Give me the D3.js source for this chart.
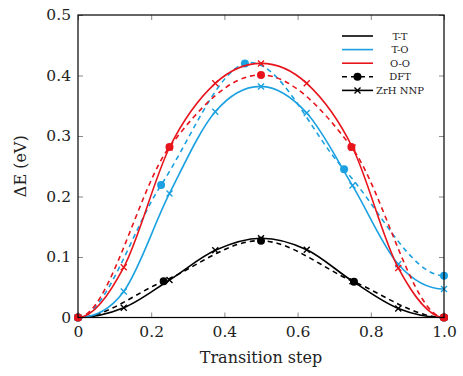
<!DOCTYPE html>
<html>
<head>
<meta charset="utf-8">
<script src="https://cdn.jsdelivr.net/npm/d3@7"></script>
<style>
body { margin: 0; background: #fff; }
svg text { font-family: "DejaVu Serif", serif !important; fill: #222; }
</style>
</head>
<body>
<svg class="EnergyChart" width="463" height="376"></svg>
<script>
// NNP steps (9 images along the path)
var nnpSteps = [0, 0.125, 0.25, 0.375, 0.5, 0.625, 0.75, 0.875, 1.0];
var nnpTT = [0, 0.016, 0.062, 0.111, 0.131, 0.112, 0.060, 0.015, 0];
var nnpTO = [0, 0.043, 0.205, 0.340, 0.382, 0.338, 0.218, 0.088, 0.047];
var nnpOO = [0, 0.083, 0.281, 0.387, 0.420, 0.387, 0.281, 0.082, 0];

// DFT points
var dftStepsTT = [0, 0.234, 0.5, 0.754, 1.0];
var dftTT = [0, 0.060, 0.127, 0.059, 0];
var dftStepsTO = [0, 0.227, 0.456, 0.727, 1.0];
var dftTO = [0, 0.219, 0.420, 0.245, 0.069];
var dftStepsOO = [0, 0.25, 0.5, 0.747, 1.0];
var dftOO = [0, 0.282, 0.401, 0.282, 0];

var xTicks = [0, 0.2, 0.4, 0.6, 0.8, 1.0];
var xTickLabels = ["0", "0.2", "0.4", "0.6", "0.8", "1.0"];
var yTicks = [0, 0.1, 0.2, 0.3, 0.4, 0.5];
var yTickLabels = ["0", "0.1", "0.2", "0.3", "0.4", "0.5"];

var pathNames = ["T-T", "T-O", "O-O"];
var pathColors = { "T-T": "#000000", "T-O": "#1ba1e2", "O-O": "#e8141c" };

var meta = {};
meta.left = 78; meta.top = 15;
meta.width = 366; meta.height = 302.5;

var svg = d3.select(".EnergyChart");
var chart = svg.append('g')
    .attr('transform', `translate(${meta.left}, ${meta.top})`);

var xScale = d3.scaleLinear().domain([0, 1]).range([0, meta.width]);
var yScale = d3.scaleLinear().domain([0, 0.5]).range([meta.height, 0]);

// inward gray ticks on all four sides
function tickStyle(g) {
    g.attr('font-family', null);
    g.select('.domain').remove();
    g.selectAll('.tick line').attr('stroke', '#888').attr('stroke-width', 1);
}
chart.append('g')
    .attr('transform', `translate(0, ${meta.height})`)
    .call(d3.axisBottom(xScale).tickValues(xTicks).tickSizeInner(-5).tickSizeOuter(0)
        .tickPadding(8).tickFormat((d, i) => xTickLabels[i]))
    .call(tickStyle)
    .call(g => g.selectAll('.tick text').attr('font-size', 15.5).attr('fill', '#222'));
chart.append('g')
    .call(d3.axisTop(xScale).tickValues(xTicks).tickSizeInner(-5).tickSizeOuter(0).tickFormat(''))
    .call(tickStyle);
chart.append('g')
    .call(d3.axisLeft(yScale).tickValues(yTicks).tickSizeInner(-5).tickSizeOuter(0)
        .tickPadding(7).tickFormat((d, i) => yTickLabels[i]))
    .call(tickStyle)
    .call(g => g.selectAll('.tick text').attr('font-size', 15.5).attr('fill', '#222'));
chart.append('g')
    .attr('transform', `translate(${meta.width}, 0)`)
    .call(d3.axisRight(yScale).tickValues(yTicks).tickSizeInner(-5).tickSizeOuter(0).tickFormat(''))
    .call(tickStyle);

// cubic Hermite spline with flat ends (energy minima at both ends of the path)
function ClampedSpline(context) { this._context = context; }
ClampedSpline.prototype = {
    areaStart: function() { this._line = 0; },
    areaEnd: function() { this._line = NaN; },
    lineStart: function() { this._x = []; this._y = []; },
    point: function(x, y) { this._x.push(+x); this._y.push(+y); },
    lineEnd: function() {
        var x = this._x, y = this._y, n = x.length, m = [];
        if (!n) return;
        for (var i = 0; i < n; i++) {
            if (i === 0 || i === n - 1) { m.push(0); continue; }
            var h0 = x[i] - x[i - 1], h1 = x[i + 1] - x[i];
            var s0 = (y[i] - y[i - 1]) / h0, s1 = (y[i + 1] - y[i]) / h1;
            m.push((s0 * h1 + s1 * h0) / (h0 + h1));
        }
        this._context.moveTo(x[0], y[0]);
        for (var j = 0; j < n - 1; j++) {
            var h = x[j + 1] - x[j];
            this._context.bezierCurveTo(
                x[j] + h / 3, y[j] + m[j] * h / 3,
                x[j + 1] - h / 3, y[j + 1] - m[j + 1] * h / 3,
                x[j + 1], y[j + 1]);
        }
    }
};
function curveClamped(context) { return new ClampedSpline(context); }

var lineGen = d3.line()
    .x(d => xScale(d[0]))
    .y(d => yScale(d[1]))
    .curve(curveClamped);

var nnpData = { "T-T": nnpTT, "T-O": nnpTO, "O-O": nnpOO };
var dftData = {
    "T-T": [dftStepsTT, dftTT],
    "T-O": [dftStepsTO, dftTO],
    "O-O": [dftStepsOO, dftOO]
};

function crossPath(x, y, s) {
    return `M${x - s},${y - s}L${x + s},${y + s}M${x - s},${y + s}L${x + s},${y - s}`;
}

pathNames.forEach(function(name) {
    var col = pathColors[name];
    var nnp = nnpSteps.map((s, i) => [s, nnpData[name][i]]);
    var dft = dftData[name][0].map((s, i) => [s, dftData[name][1][i]]);

    chart.append('path')
        .datum(dft)
        .attr('d', lineGen)
        .attr('fill', 'none')
        .attr('stroke', col)
        .attr('stroke-width', 1.6)
        .attr('stroke-dasharray', '5,4');

    chart.append('path')
        .datum(nnp)
        .attr('d', lineGen)
        .attr('fill', 'none')
        .attr('stroke', col)
        .attr('stroke-width', 1.6);

    chart.selectAll(null)
        .data(nnp)
        .enter()
        .append('path')
        .attr('d', d => crossPath(xScale(d[0]), yScale(d[1]), 3))
        .attr('stroke', col)
        .attr('stroke-width', 1.4)
        .attr('fill', 'none');

    chart.selectAll(null)
        .data(dft)
        .enter()
        .append('circle')
        .attr('cx', d => xScale(d[0]))
        .attr('cy', d => yScale(d[1]))
        .attr('r', 4)
        .attr('fill', col);
});

// frame
chart.append('rect')
    .attr('width', meta.width)
    .attr('height', meta.height)
    .attr('fill', 'none')
    .attr('stroke', '#000')
    .attr('stroke-width', 1.2);

// legend
var legendItems = [
    { label: "T-T", color: pathColors["T-T"], dash: null, marker: null },
    { label: "T-O", color: pathColors["T-O"], dash: null, marker: null },
    { label: "O-O", color: pathColors["O-O"], dash: null, marker: null },
    { label: "DFT", color: "#000", dash: "5,4", marker: "circle" },
    { label: "ZrH NNP", color: "#000", dash: null, marker: "cross" }
];
var legend = svg.append('g').attr('transform', 'translate(342, 36)');
legendItems.forEach(function(item, i) {
    var y = i * 13.6;
    legend.append('line')
        .attr('x1', 0).attr('x2', 31)
        .attr('y1', y).attr('y2', y)
        .attr('stroke', item.color)
        .attr('stroke-width', 1.6)
        .attr('stroke-dasharray', item.dash);
    if (item.marker === "circle") {
        legend.append('circle').attr('cx', 15.5).attr('cy', y).attr('r', 4).attr('fill', item.color);
    } else if (item.marker === "cross") {
        legend.append('path').attr('d', crossPath(15.5, y, 3))
            .attr('stroke', item.color).attr('stroke-width', 1.4).attr('fill', 'none');
    }
    legend.append('text')
        .attr('x', 58)
        .attr('y', y)
        .attr('dy', '0.35em')
        .attr('text-anchor', 'middle')
        .attr('font-size', 10)
        .text(item.label);
});

// axis titles
svg.append('text')
    .attr('x', meta.left + meta.width / 2)
    .attr('y', 363)
    .attr('text-anchor', 'middle')
    .attr('font-size', 16)
    .text("Transition step");

svg.append('text')
    .attr('transform', `translate(26, ${meta.top + meta.height / 2}) rotate(-90)`)
    .attr('text-anchor', 'middle')
    .attr('font-size', 16)
    .text("ΔE (eV)");
</script>
</body>
</html>
